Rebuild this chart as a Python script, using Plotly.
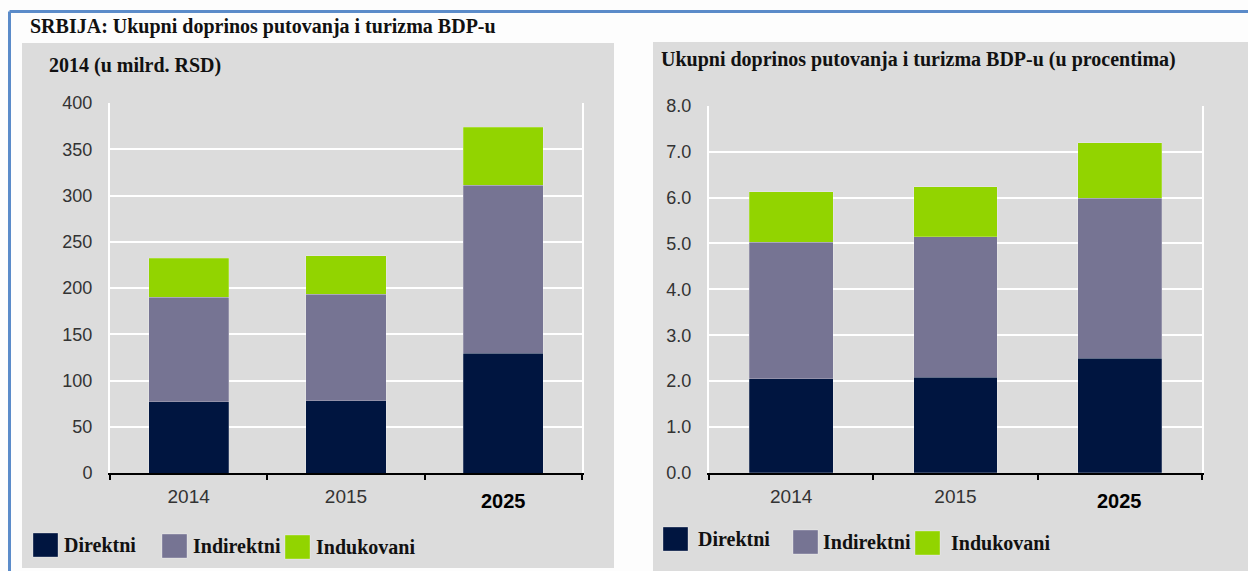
import plotly.graph_objects as go

# dados
godine = ["2014", "2015", "2025"]
serije = ["Direktni", "Indirektni", "Indukovani"]

# milijarde RSD
direktni_rsd = [77, 78, 129.5]
indirektni_rsd = [113, 115.5, 181.5]
indukovani_rsd = [42, 41.5, 63]

# procenat BDP-a
direktni_pct = [2.05, 2.08, 2.50]
indirektni_pct = [2.98, 3.07, 3.48]
indukovani_pct = [1.10, 1.08, 1.21]

y_ticks_rsd = [0, 50, 100, 150, 200, 250, 300, 350, 400]
y_ticks_pct = [0, 1, 2, 3, 4, 5, 6, 7, 8]

# poslednja godina je istaknuta (podebljano)
istaknuta = "2025"

boje = ["#001540", "#767493", "#92d400"]

W, H = 1248, 571


def px(x):
    return x / W


def py(y):
    return (H - y) / H


fig = go.Figure()

vrednosti_rsd = [direktni_rsd, indirektni_rsd, indukovani_rsd]
vrednosti_pct = [direktni_pct, indirektni_pct, indukovani_pct]

for ime, vals, boja in zip(serije, vrednosti_rsd, boje):
    fig.add_trace(go.Bar(x=godine, y=vals, name=ime, marker=dict(color=boja, line=dict(width=0.6, color="rgba(255,255,255,0.35)")),
                         width=0.51, xaxis="x", yaxis="y", showlegend=False))

for ime, vals, boja in zip(serije, vrednosti_pct, boje):
    fig.add_trace(go.Bar(x=godine, y=vals, name=ime, marker=dict(color=boja, line=dict(width=0.6, color="rgba(255,255,255,0.35)")),
                         width=0.51, xaxis="x2", yaxis="y2", showlegend=False))

tick_font = dict(family="Liberation Sans, Arial", size=18, color="#333333")
tekst_godina = [g if g != istaknuta else " " for g in godine]

x_osa = dict(
    type="category", categoryorder="array", categoryarray=godine,
    range=[-0.5, len(godine) - 0.5],
    tickvals=godine, ticktext=tekst_godina,
    showline=True, linecolor="black", linewidth=2,
    ticks="outside", tickson="boundaries", ticklen=5, tickwidth=1.5, tickcolor="black",
    ticklabelstandoff=5,
    tickfont=dict(family="Liberation Sans, Arial", size=19, color="#333333"),
    showgrid=False, zeroline=False, fixedrange=True, automargin=False,
)

y_osa = dict(
    showline=True, linecolor="white", linewidth=2, mirror=True,
    showgrid=True, gridcolor="white", gridwidth=1.5, zeroline=False,
    ticks="outside", ticklen=12, tickcolor="rgba(0,0,0,0)",
    tickfont=tick_font, fixedrange=True, automargin=False,
)

fig.update_layout(
    width=W, height=H,
    margin=dict(l=0, r=0, t=0, b=0, pad=0),
    paper_bgcolor="#fdfdfd",
    plot_bgcolor="#dcdcdc",
    barmode="stack",
    xaxis=dict(x_osa, domain=[px(110), px(582)], anchor="y"),
    yaxis=dict(y_osa, domain=[py(473), py(103)], range=[0, 400], tickvals=y_ticks_rsd, anchor="x"),
    xaxis2=dict(x_osa, domain=[px(709), px(1202)], anchor="y2"),
    yaxis2=dict(y_osa, domain=[py(473), py(105.7)], range=[0, 8], tickvals=y_ticks_pct,
                tickformat=".1f", anchor="x2"),
)

# podebljana oznaka istaknute godine, malo niže od ostalih
idx = godine.index(istaknuta)
for xr in ("x", "x2"):
    fig.add_annotation(text=f"<b>{istaknuta}</b>", xref=xr, yref="paper", x=idx, y=py(501),
                       xanchor="center", yanchor="middle", showarrow=False,
                       font=dict(family="Liberation Sans, Arial", size=20, color="#000000"))

# sivi paneli i plavi okvir
fig.add_shape(type="rect", xref="paper", yref="paper", x0=px(22), x1=px(614), y0=py(568), y1=py(43),
              fillcolor="#dcdcdc", line=dict(width=0), layer="below")
fig.add_shape(type="rect", xref="paper", yref="paper", x0=px(653), x1=px(1248), y0=py(571), y1=py(42),
              fillcolor="#dcdcdc", line=dict(width=0), layer="below")
fig.add_shape(type="line", xref="paper", yref="paper", x0=px(9.5), x1=px(9.5), y0=py(571), y1=py(11.5),
              line=dict(color="#5b8bc9", width=3))
fig.add_shape(type="line", xref="paper", yref="paper", x0=px(9.5), x1=px(1248), y0=py(11.5), y1=py(11.5),
              line=dict(color="#5b8bc9", width=3))

naslov_font = dict(family="Liberation Serif, Times New Roman", size=20, color="#111111")

fig.add_annotation(text="<b>SRBIJA: Ukupni doprinos putovanja i turizma BDP-u</b>", xref="paper", yref="paper",
                   x=px(28), y=py(27), xanchor="left", yanchor="middle", showarrow=False, font=naslov_font)
fig.add_annotation(text="<b>2014 (u milrd. RSD)</b>", xref="paper", yref="paper",
                   x=px(47), y=py(66), xanchor="left", yanchor="middle", showarrow=False, font=naslov_font)
fig.add_annotation(text="<b>Ukupni doprinos putovanja i turizma BDP-u (u procentima)</b>", xref="paper", yref="paper",
                   x=px(659), y=py(60), xanchor="left", yanchor="middle", showarrow=False, font=naslov_font)

# legende (ručno, zbog velikih kvadrata)
legenda_font = dict(family="Liberation Serif, Times New Roman", size=20, color="#111111")
leva = [(33, 62, 545), (162, 191, 546), (285, 314, 547)]
desna = [(663, 696, 539), (793, 821, 542), (915, 949, 543)]
for pozicije in (leva, desna):
    for (kx, tx, ky), ime, boja in zip(pozicije, serije, boje):
        fig.add_shape(type="rect", xref="paper", yref="paper",
                      x0=px(kx), x1=px(kx + 25), y0=py(ky + 12), y1=py(ky - 12),
                      fillcolor=boja, line=dict(width=0.8, color="rgba(255,255,255,0.4)"))
        fig.add_annotation(text=f"<b>{ime}</b>", xref="paper", yref="paper",
                           x=px(tx), y=py(ky), xanchor="left", yanchor="middle",
                           showarrow=False, font=legenda_font)

fig.write_html("out.html", config={"displayModeBar": False},
               post_script="document.body.style.margin='0';")
